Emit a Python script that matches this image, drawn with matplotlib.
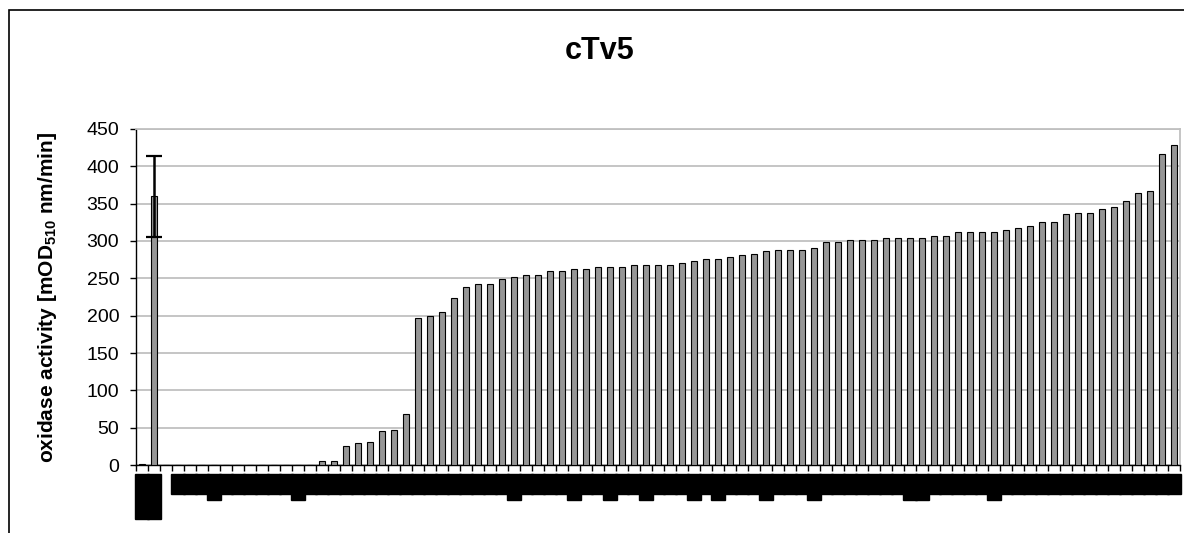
import numpy as np
import matplotlib
matplotlib.use("Agg")
import matplotlib.pyplot as plt
from matplotlib.patches import Rectangle

plt.rcParams['font.family'] = ['Liberation Sans', 'DejaVu Sans']
plt.rcParams['mathtext.fontset'] = 'custom'
plt.rcParams['mathtext.rm'] = 'Liberation Sans'
plt.rcParams['mathtext.bf'] = 'Liberation Sans:bold'

# data (first two: controls, rest: clones sorted by activity)
activity = [1, 360,
            0, 0, 0, 0, 0, 0, 0, 0, 0, 0, 0, 0, 0,
            5, 5, 26, 29, 31, 45, 47, 68,
            197, 200, 205, 223, 238, 243, 243, 249, 252, 255,
            255, 260, 260, 262, 262, 265, 265, 265, 268, 268,
            268, 268, 270, 273, 276, 276, 278, 281, 283, 286,
            288, 288, 288, 291, 299, 299, 302, 302, 302, 304,
            304, 304, 304, 307, 307, 312, 312, 312, 312, 315,
            317, 320, 325, 325, 336, 338, 338, 343, 346, 354,
            364, 367, 417, 428]
errors = [0, 54] + [0] * 85

# clone names are blacked out in the reference; only their length shows
long_names = [6, 13, 31, 36, 39, 42, 46, 48, 52, 56, 64, 65, 71]
labels = ['reference', 'reference', ''] + ['000'] * 84
for i in long_names:
    labels[i] = '0000'
yticks = [0, 50, 100, 150, 200, 250, 300, 350, 400, 450]

W, H = 1184, 533
fig = plt.figure(figsize=(W / 100, H / 100), dpi=100)
ax = fig.add_axes([136 / W, 68 / H, (1180 - 136) / W, (465 - 129) / H])

x = np.arange(len(activity))
ax.bar(x, activity, width=0.45, color='#969696', edgecolor='black', linewidth=0.8, zorder=3)

err = np.array(errors)
m = err > 0
ax.errorbar(x[m], np.array(activity)[m], yerr=err[m], fmt='none', ecolor='black',
            elinewidth=1.8, capsize=6, capthick=1.6, zorder=4)

ax.set_xlim(-0.5, len(activity) - 0.5)
ax.set_ylim(0, 450)
ax.set_yticks(yticks)
ax.tick_params(axis='y', direction='out', length=4, width=1, labelsize=14, pad=8)
ax.yaxis.grid(True, color='#c0c0c0', linewidth=1.3, zorder=0)

ax.set_xticks(x)
ax.set_xticks(np.arange(len(activity) + 1) - 0.5, minor=True)
ax.tick_params(axis='x', which='major', length=0, pad=8)
ax.tick_params(axis='x', which='minor', direction='out', length=4, width=1)
ax.set_xticklabels(labels, rotation=90, fontsize=7, va='top', ha='center')
for tl in ax.get_xticklabels():
    if tl.get_text():
        tl.set_color('black')
        tl.set_bbox(dict(boxstyle='square,pad=0.2', fc='black', ec='black'))

for side in ['top', 'right']:
    ax.spines[side].set_color('#c0c0c0')
    ax.spines[side].set_linewidth(1.3)
ax.spines['left'].set_linewidth(1)
ax.spines['bottom'].set_linewidth(1)

ax.set_ylabel(r'oxidase activity [mOD$_\mathbf{510}$ nm/min]', fontsize=15,
              fontweight='bold', labelpad=20)
fig.text(600 / W, 1 - 51 / H, 'cTv5', fontsize=22, fontweight='bold',
         ha='center', va='center')

fig.add_artist(Rectangle((9 / W, -0.1), 1.2, 1.1 - 10 / H, transform=fig.transFigure,
                         fill=False, edgecolor='black', linewidth=1.2))

fig.savefig('out.png', dpi=100)
